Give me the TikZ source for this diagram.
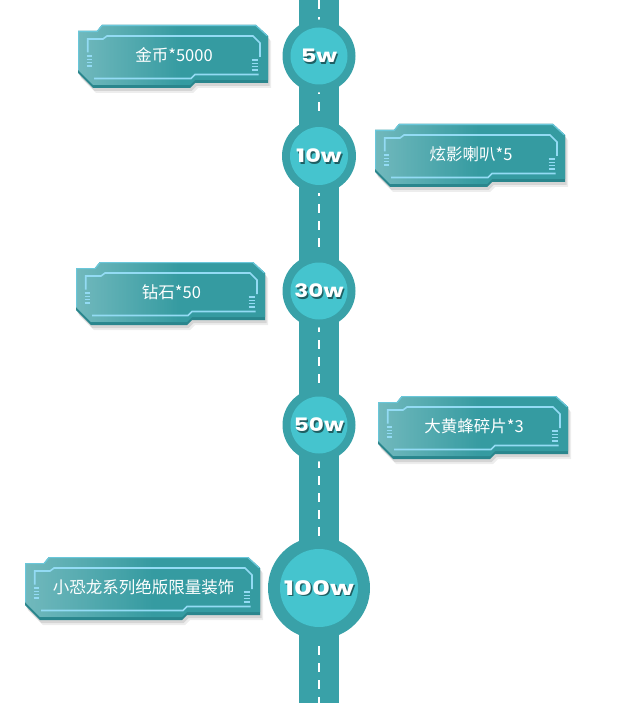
\documentclass[tikz,border=0pt]{standalone}
\usepackage{fontspec}
\usepackage{graphicx}
\setmainfont{Noto Sans CJK SC}
\newfontfamily\badgefont{Poppins}
\usetikzlibrary{fadings,calc}
\definecolor{roadc}{HTML}{39A1A8}
\definecolor{discc}{HTML}{45C4CE}
\definecolor{facec}{HTML}{359BA1}
\definecolor{bandc}{HTML}{2A868D}
\definecolor{linec}{HTML}{93DBF4}
\definecolor{edgec}{HTML}{6AC7DA}
\definecolor{shadowtxt}{HTML}{1E5E62}
\tikzfading[name=fadeleft, left color=transparent!0, right color=transparent!100]
\tikzset{
  innerline/.style={draw=linec, line width=1.6pt},
  barline/.style={draw=linec, line width=1.4pt},
  paneltext/.style={text=white, font=\fontsize{16.5}{19}\selectfont, inner sep=0pt},
  badge/.style={text=white, font=\badgefont\bfseries\fontsize{18.5}{22}\selectfont, inner sep=0pt},
  bigbadge/.style={text=white, font=\badgefont\bfseries\fontsize{20}{24}\selectfont, inner sep=0pt},
  ring/.style={circle, fill=roadc, inner sep=0pt},
  disc/.style={circle, fill=discc, inner sep=0pt},
  centerdash/.style={draw=white, line width=2.2pt, dash pattern=on 9pt off 8pt},
}
% #1 name, #2 left, #3 top, #4 width, #5 text
\newcommand\rewardpanel[5]{%
\begin{scope}[shift={(#2,#3)}]
\pgfmathsetmacro\pw{#4}
\fill[black,opacity=.07,shift={(3,5)}] (0,6) -- (19,6) -- (24,0) -- ({\pw-12},0) -- (\pw,11) -- (\pw,58) -- ({\pw-73},58) -- ({\pw-78},63) -- (15,63) -- (0,48) -- cycle;
\fill[black,opacity=.10,shift={(1.5,3)}] (0,6) -- (19,6) -- (24,0) -- ({\pw-12},0) -- (\pw,11) -- (\pw,58) -- ({\pw-73},58) -- ({\pw-78},63) -- (15,63) -- (0,48) -- cycle;
\fill[bandc] (0,6) -- (19,6) -- (24,0) -- ({\pw-12},0) -- (\pw,11) -- (\pw,58) -- ({\pw-73},58) -- ({\pw-78},63) -- (15,63) -- (0,48) -- cycle;
\fill[facec] (0,6) -- (19,6) -- (24,0) -- ({\pw-12},0) -- (\pw,11) -- (\pw,55) -- ({\pw-73},55) -- ({\pw-78},60) -- (15,60) -- (0,45) -- cycle;
\begin{scope}
\clip (0,6) -- (19,6) -- (24,0) -- ({\pw-12},0) -- (\pw,11) -- (\pw,55) -- ({\pw-73},55) -- ({\pw-78},60) -- (15,60) -- (0,45) -- cycle;
\fill[white,opacity=.30,path fading=fadeleft] (0,0) rectangle ({0.55*\pw},60);
\end{scope}
\draw[edgec,line width=1.2pt] (0.6,45) -- (0.6,6.6) -- (19,6.6) -- (24,0.6) -- ({\pw-12},0.6) -- ({\pw-0.6},11);
% inner light frame
\draw[innerline] (9.7,27.5) -- (9.7,14) -- (25,14) -- (29,11) -- ({\pw-15},11) -- ({\pw-8},18) -- ({\pw-8},32);
\draw[innerline] ({\pw-9.5},49.5) -- ({\pw-73},49.5) -- ({\pw-77},53.5) -- (16,53.5);
\foreach \yy in {31,34.3,37.6,40.9} \draw[barline] (8.7,\yy) -- (14.3,\yy);
\foreach \yy in {35,38.3,41.6,44.9} \draw[barline] ({\pw-16.3},\yy) -- ({\pw-9.7},\yy);
\node[paneltext] (#1) at ({\pw/2+1},30) {#5};
\end{scope}}
% #1 name, #2 y, #3 outer diameter, #4 inner diameter, #5 label, #6 label style, #7 stretch
\newcommand\milestone[7]{%
\node[ring, minimum size=#3pt] (#1) at (319,#2) {};
\node[disc, minimum size=#4pt] (#1in) at (#1) {};
\node[#6, text=shadowtxt] (#1sh) at ($(#1)+(1.3,1.3)$) {\scalebox{#7}[1]{#5}};
\node[#6] (#1lb) at (#1) {\scalebox{#7}[1]{#5}};}
\begin{document}
\begin{tikzpicture}[x=1pt,y=-1pt]
\useasboundingbox (0,0) rectangle (640,703);
% road
\fill[roadc] (299,0) rectangle (339,703);
\coordinate (roadtop) at (319,0);
\coordinate (roadbot) at (319,703);
\draw[centerdash] (roadtop) -- (roadbot);
% milestones
\milestone{m5}{56}{73}{57}{5w}{badge}{1.3}
\milestone{m10}{156}{74}{58}{10w}{badge}{1.3}
\milestone{m30}{291}{73}{57}{30w}{badge}{1.25}
\milestone{m50}{425}{73}{57}{50w}{badge}{1.25}
\milestone{m100}{588}{102}{78}{100w}{bigbadge}{1.38}
% panels
\rewardpanel{p1}{78}{25}{190}{金币*5000}
\rewardpanel{p2}{375}{124}{190}{炫影喇叭*5}
\rewardpanel{p3}{76}{262}{189}{钻石*50}
\rewardpanel{p4}{378}{396}{190}{大黄蜂碎片*3}
\rewardpanel{p5}{25}{557}{235}{小恐龙系列绝版限量装饰}
\end{tikzpicture}
\end{document}
